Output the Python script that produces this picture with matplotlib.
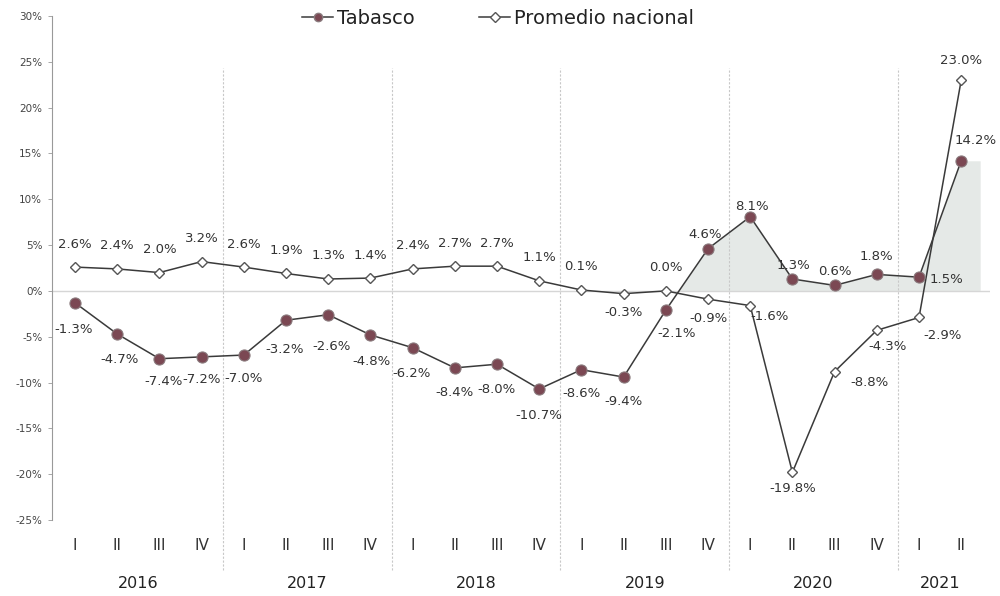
import matplotlib
matplotlib.use("Agg")
import matplotlib.pyplot as plt
from matplotlib.lines import Line2D
import numpy as np

years = ["2016", "2017", "2018", "2019", "2020", "2021"]
quarters_per_year = [4, 4, 4, 4, 4, 2]
quarter_labels = ["I", "II", "III", "IV"] * 5 + ["I", "II"]

tabasco = [-1.3, -4.7, -7.4, -7.2, -7.0, -3.2, -2.6, -4.8, -6.2, -8.4, -8.0,
           -10.7, -8.6, -9.4, -2.1, 4.6, 8.1, 1.3, 0.6, 1.8, 1.5, 14.2]
nacional = [2.6, 2.4, 2.0, 3.2, 2.6, 1.9, 1.3, 1.4, 2.4, 2.7, 2.7,
            1.1, 0.1, -0.3, 0.0, -0.9, -1.6, -19.8, -8.8, -4.3, -2.9, 23.0]

y_ticks = [-25, -20, -15, -10, -5, 0, 5, 10, 15, 20, 25, 30]

# label offsets in pixels (dx, dy)
tab_off = [(-1, -27), (2, -26), (4, -23), (0, -23), (0, -23), (-1, -29), (3, -32), (1, -27),
           (-1, -26), (0, -25), (0, -25), (0, -27), (0, -24), (0, -24), (11, -23), (-3, 14),
           (2, 10), (1, 13), (0, 14), (0, 18), (27, -2), (14, 20)]
nac_off = [(0, 23), (0, 23), (0, 23), (0, 23), (0, 23), (0, 23), (0, 23), (0, 23),
           (0, 23), (0, 23), (0, 23), (0, 23), (0, 23), (0, -19), (0, 23), (0, -19),
           (19, -11), (0, -16), (35, -11), (11, -16), (24, -18), (0, 20)]

x = np.arange(len(tabasco))
tab = np.array(tabasco)
nac = np.array(nacional)

fig = plt.figure(figsize=(10, 5.96), dpi=100)
W, H = 1000, 596
ax = fig.add_axes([52 / W, 1 - 520 / H, (990 - 52) / W, (520 - 16) / H])

step = 42.2
ax.set_xlim((52 - 75) / step, (990 - 75) / step)
ax.set_ylim(-25, 30)

# shaded area (Tabasco positive)
xf = np.concatenate([x, [x[-1] + 0.45]])
yf = np.concatenate([tab, [tab[-1]]])
ax.fill_between(xf, 0, yf, where=yf >= 0, interpolate=True,
                color="#e5e9e7", linewidth=0, zorder=1)

# zero line
ax.axhline(0, color="#d6d6d6", linewidth=1.0, zorder=1.5)

# year separators
bounds = np.cumsum(quarters_per_year)[:-1]
for b in bounds:
    ax.axvline(b - 0.5, ymin=-0.1, ymax=(520 - 68) / 504, color="#c8c8c8",
               linewidth=0.8, linestyle=(0, (2, 1.5)), clip_on=False, zorder=1)

# lines
ax.plot(x, nac, color="#3a3a3a", linewidth=1.1, marker="D", markersize=5.5,
        markerfacecolor="white", markeredgecolor="#555555", markeredgewidth=1.0, zorder=3)
ax.plot(x, tab, color="#3a3a3a", linewidth=1.1, marker="o", markersize=8,
        markerfacecolor="#7b4853", markeredgecolor="#8a7a7d", markeredgewidth=0.8, zorder=4)

for i in range(len(x)):
    ax.annotate(f"{tab[i]:.1f}%", (x[i], tab[i]), xytext=tab_off[i], textcoords="offset pixels",
                ha="center", va="center", fontsize=9.5, color="#333333", zorder=5)
    ax.annotate(f"{nac[i]:.1f}%", (x[i], nac[i]), xytext=nac_off[i], textcoords="offset pixels",
                ha="center", va="center", fontsize=9.5, color="#333333", zorder=5)

# axes styling
for s in ["top", "right", "bottom"]:
    ax.spines[s].set_visible(False)
ax.spines["left"].set_color("#999999")
ax.spines["left"].set_linewidth(0.8)
ax.set_yticks(y_ticks)
ax.set_yticklabels([f"{v}%" for v in y_ticks], fontsize=7.5, color="#444444")
ax.tick_params(axis="y", length=3, width=0.6, color="#999999", pad=4)
ax.set_xticks(x)
ax.set_xticklabels(quarter_labels, fontsize=11, color="#333333")
ax.tick_params(axis="x", length=0, pad=13)

# year labels
start = 0
for yr, n in zip(years, quarters_per_year):
    cx = start + (n - 1) / 2
    ax.text(cx, -0.125, yr, transform=ax.get_xaxis_transform(), ha="center", va="center",
            fontsize=11.5, color="#222222")
    start += n

# legend
handles = [
    Line2D([], [], color="#3a3a3a", linewidth=1.1, marker="o", markersize=6,
           markerfacecolor="#7b4853", markeredgecolor="#8a7a7d"),
    Line2D([], [], color="#3a3a3a", linewidth=1.1, marker="D", markersize=5,
           markerfacecolor="white", markeredgecolor="#555555"),
]
fig.legend(handles, ["Tabasco", "Promedio nacional"], loc="center",
           bbox_to_anchor=(0.498, 1 - 18 / H), ncol=2, frameon=False, fontsize=14,
           handlelength=1.6, handletextpad=0.2, columnspacing=3.3, labelcolor="#222222")

fig.savefig("out.png", dpi=100)
